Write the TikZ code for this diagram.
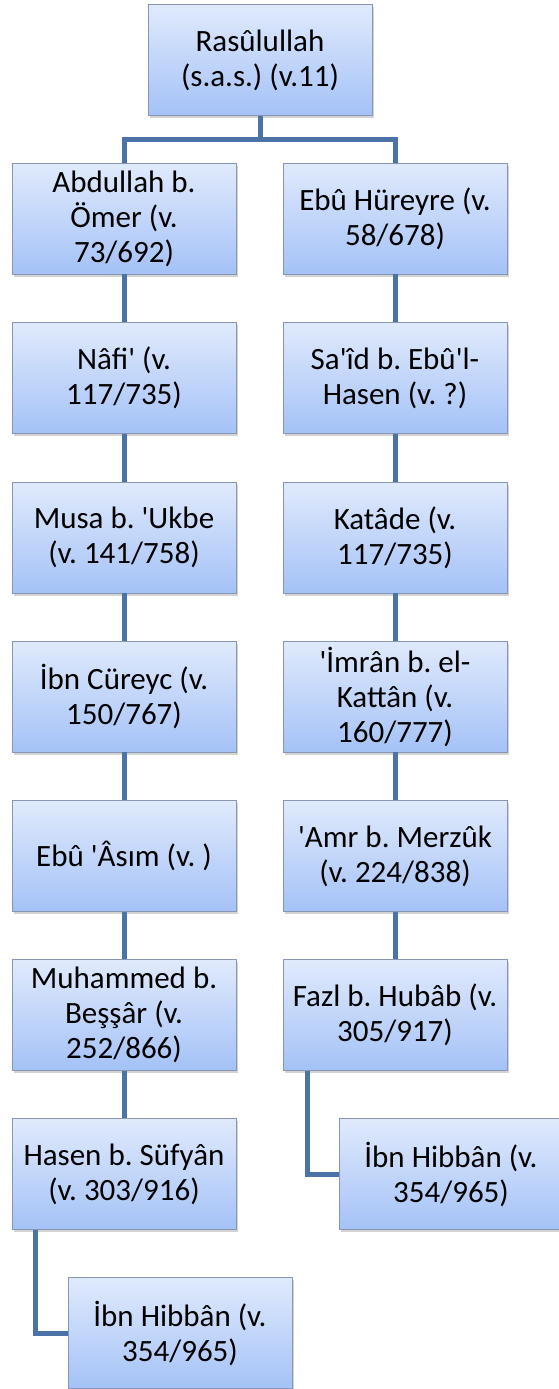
\documentclass[tikz,border=0pt]{standalone}
\usepackage{fontspec}
\newfontfamily\boxfont{Carlito}
\usetikzlibrary{shadows}
\definecolor{boxtop}{HTML}{E0EAFC}
\definecolor{boxbot}{HTML}{A4C2F7}
\definecolor{boxline}{HTML}{8797B3}
\definecolor{linkcol}{HTML}{4C73A8}
\tikzset{
  person/.style={draw=boxline, line width=0.8pt, top color=boxtop, bottom color=boxbot,
    minimum width=224pt, minimum height=111pt, inner sep=0pt, align=center,
    font=\boxfont\fontsize{31}{35}\selectfont\frenchspacing,
    drop shadow={shadow xshift=2pt, shadow yshift=-2.5pt, opacity=0.35}},
  link/.style={draw=linkcol, line width=5pt, line join=miter}
}
\begin{document}
\begin{tikzpicture}[x=1pt,y=-1pt]
\useasboundingbox (0,0) rectangle (559,1389);
% root
\node[person] (root) at (260,60) {Rasûlullah\\(s.a.s.) (v.11)};
% left chain
\node[person] (l1) at (124,218.5) {Abdullah b.\\Ömer (v.\\73/692)};
\node[person] (l2) at (124,378) {Nâfi' (v.\\117/735)};
\node[person] (l3) at (124,537.5) {Musa b. 'Ukbe\\(v. 141/758)};
\node[person] (l4) at (124,696.5) {İbn Cüreyc (v.\\150/767)};
\node[person] (l5) at (124,856) {Ebû 'Âsım (v. )};
\node[person] (l6) at (124,1015) {Muhammed b.\\Beşşâr (v.\\252/866)};
\node[person] (l7) at (124,1174) {Hasen b. Süfyân\\(v. 303/916)};
\node[person] (l8) at (180,1333) {İbn Hibbân (v.\\354/965)};
% right chain
\node[person] (r1) at (395,218.5) {Ebû Hüreyre (v.\\58/678)};
\node[person] (r2) at (395,378) {Sa'îd b. Ebû'l-\\Hasen (v. ?)};
\node[person] (r3) at (395,537.5) {Katâde (v.\\117/735)};
\node[person] (r4) at (395,696.5) {'İmrân b. el-\\Kattân (v.\\160/777)};
\node[person] (r5) at (395,856) {'Amr b. Merzûk\\(v. 224/838)};
\node[person] (r6) at (395,1015) {Fazl b. Hubâb (v.\\305/917)};
\node[person] (r7) at (451,1174) {İbn Hibbân (v.\\354/965)};
% connectors
\draw[link] (root.south) -- ++(0,24) coordinate (fork);
\draw[link] (fork) -| (l1.north);
\draw[link] (fork) -| (r1.north);
\foreach \a/\b in {l1/l2,l2/l3,l3/l4,l4/l5,l5/l6,l6/l7,r1/r2,r2/r3,r3/r4,r4/r5,r5/r6}
  \draw[link] (\a.south) -- (\b.north);
\draw[link] ([xshift=-89pt]l7.south) |- (l8.west);
\draw[link] ([xshift=-88pt]r6.south) |- (r7.west);
\end{tikzpicture}
\end{document}
